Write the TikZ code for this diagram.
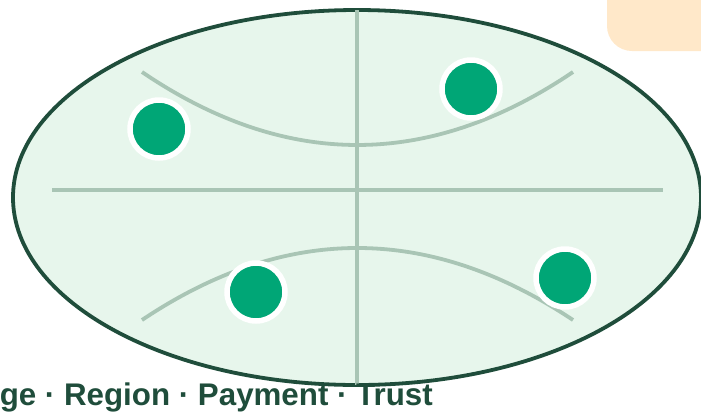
\documentclass[tikz,border=0pt]{standalone}
\usepackage{fontspec}
\setmainfont{Liberation Sans}
\usepackage{tikz}
\usetikzlibrary{positioning}

\definecolor{rim}{HTML}{1F4D3B}
\definecolor{field}{HTML}{E7F6EC}
\definecolor{chalk}{HTML}{A9C5B5}
\definecolor{player}{HTML}{00A676}
\definecolor{tag}{HTML}{FFE8C9}

\begin{document}
\begin{tikzpicture}[
    x=1pt, y=-1pt,
    dot/.style={circle, fill=player, draw=white, line width=5.5pt, minimum size=58pt, inner sep=0pt},
    mark line/.style={draw=chalk, line width=3.8pt},
    caption/.style={font=\bfseries\fontsize{31.3}{36}\selectfont, text=rim, inner sep=0pt}
]
\useasboundingbox (0,0) rectangle (701,413);

% tab in the corner
\fill[tag, rounded corners=25pt] (607,-30) rectangle (760,51);

% field
\draw[rim, fill=field, line width=3.8pt] (357,197.5) ellipse [x radius=344pt, y radius=187.5pt];
\draw[mark line] (357,10) -- (357,385);
\draw[mark line] (52,190) -- (663,190);
\draw[mark line] (142,72) .. controls (285.3,169.3) and (429,169.3) .. (573,72);
\draw[mark line] (142,320) .. controls (285.3,224) and (429,224) .. (573,320);

% players
\node[dot] (p1) at (159,129) {};
\node[dot] (p2) at (471,89) {};
\node[dot] (p3) at (256,292) {};
\node[dot] (p4) at (565,278) {};

\node[caption, anchor=base east] (keys) at (433,405) {ge · Region · Payment · Trust};
\end{tikzpicture}
\end{document}
